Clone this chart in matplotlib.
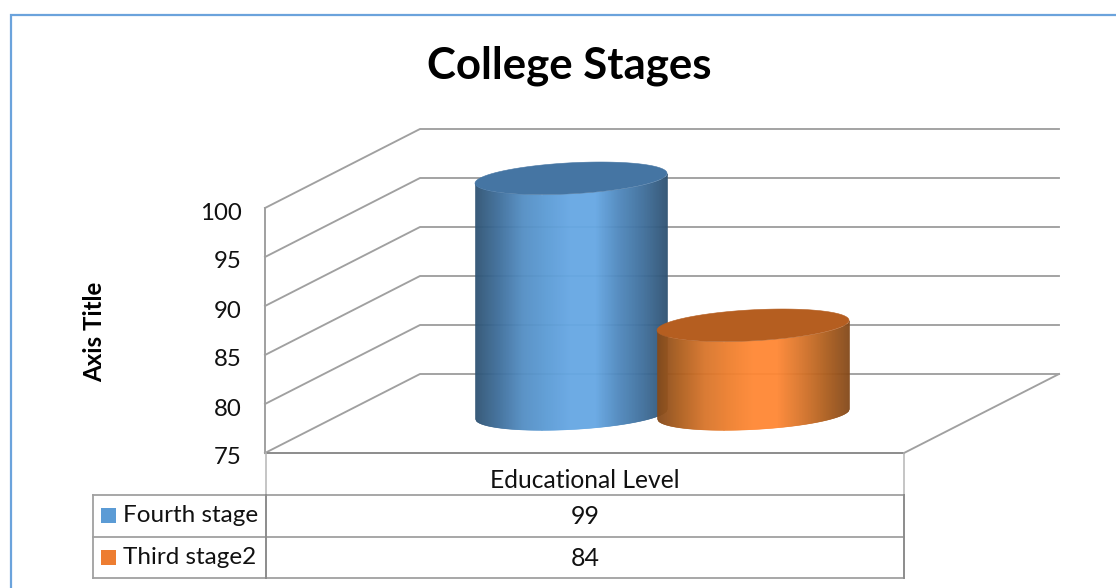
import numpy as np
import matplotlib
matplotlib.use('Agg')
import matplotlib.pyplot as plt
from matplotlib.colors import LinearSegmentedColormap
from matplotlib.patches import Rectangle
from matplotlib.transforms import ScaledTranslation

plt.rcParams['font.family'] = ['Lato', 'DejaVu Sans']

title = 'College Stages'
y_title = 'Axis Title'
category = 'Educational Level'
series_names = ['Fourth stage', 'Third stage2']
series_values = [99, 84]
y_ticks = [75, 80, 85, 90, 95, 100]

key_colors = ['#5b9bd5', '#ed7d31']
top_colors = ['#4575a3', '#b55e20']
side_colors = [
    ['#2f5373', '#3f6f9c', '#548fc4', '#5c9cd6', '#66a8e4', '#66a8e4', '#4f88bd', '#3f6f9c', '#2f5373'],
    ['#854a1a', '#b0601f', '#d9752b', '#ee802f', '#ff8835', '#ff8835', '#d9752b', '#b0601f', '#854a1a'],
]
grid_color = '#a0a0a0'
table_color = '#a0a0a0'

W, H = 1116, 588
fig = plt.figure(figsize=(W / 100, H / 100), dpi=100)

# front plane of the 3d box, 265..904 px wide and 453..208 px high
ax = fig.add_axes([265 / W, (H - 453) / H, 639 / W, 245 / H])
ax.set_xlim(0, 1)
ax.set_ylim(75, 100)
px_x = 1 / 639
px_y = 25 / 245
depth_x = 155 * px_x
depth_y = 79 * px_y


def project(x, depth, value):
    return x + depth * depth_x, value + depth * depth_y


# walls
for v in y_ticks:
    x0, y0 = project(0, 0, v)
    x1, y1 = project(0, 1, v)
    x2, y2 = project(1, 1, v)
    ax.plot([x0, x1, x2], [y0, y1, y2], color=grid_color, lw=1.35, clip_on=False, zorder=1)
x0, y0 = project(1, 0, 75)
x1, y1 = project(1, 1, 75)
ax.plot([x0, x1], [y0, y1], color=grid_color, lw=1.35, clip_on=False, zorder=1)
ax.plot([0, 1], [75, 75], color='#8c8c8c', lw=1.4, clip_on=False, zorder=1)
ax.plot([0, 0], [75, 100], color=grid_color, lw=1.4, clip_on=False, zorder=1)

# cylinders
centers = [0.3576, 0.6424]
half_w = 96 * px_x
half_h = 15.5 * px_y
tilt = 5 * px_y
t = np.linspace(0, 2 * np.pi, 241)
for i, val in enumerate(series_values):
    cx, base = project(centers[i], 0.5, 75)
    top = base + val - 75
    cmap = LinearSegmentedColormap.from_list('side', side_colors[i])
    xs = np.linspace(-1, 1, 193)
    for j in range(len(xs) - 1):
        for_x = np.array([xs[j], xs[j + 1]])
        s = np.sqrt(np.clip(1 - for_x ** 2, 0, 1))
        low = base + tilt * for_x - half_h * s
        high = top + tilt * for_x - half_h * s
        ax.fill_between(cx + half_w * for_x, low, high, color=cmap((j + 0.5) / 192),
                        lw=0.4, clip_on=False, zorder=3 + i)
    ax.fill(cx + half_w * np.cos(t), top + tilt * np.cos(t) + half_h * np.sin(t),
            color=top_colors[i], lw=0.4, clip_on=False, zorder=3 + i)

ax.set_xticks([])
ax.set_yticks(y_ticks)
ax.tick_params(axis='y', length=0, pad=17, labelsize=17.3, labelcolor='#111111')
ax.patch.set_alpha(0)
for s in ax.spines.values():
    s.set_visible(False)
shift = ScaledTranslation(0, -3 / 72 * 72 / 100, fig.dpi_scale_trans)
for lab in ax.get_yticklabels():
    lab.set_transform(lab.get_transform() + shift)

# overlay in pixel units for frame, titles and data table
ov = fig.add_axes([0, 0, 1, 1], zorder=5)
ov.set_xlim(0, W)
ov.set_ylim(H, 0)
ov.axis('off')

ov.plot([10.5, 10.5, W], [H, 14.5, 14.5], color='#6ba3dc', lw=1.6, solid_joinstyle='miter')

ov.text(569.5, 66, title, ha='center', va='center', fontsize=31.5, fontweight='bold', color='black')
ov.text(95, 332, y_title, ha='center', va='center', rotation=90, fontsize=17.4, fontweight='bold', color='black')

rows = [495, 537, 578]
left, split, right = 92.5, 266, 904
ov.plot([split, split], [453, rows[0]], color='#b5b5b5', lw=1.1)
ov.plot([right, right], [453, rows[0]], color='#b5b5b5', lw=1.1)
ov.plot([left, right], [rows[0], rows[0]], color=table_color, lw=1.3)
ov.plot([left, right], [rows[1], rows[1]], color=table_color, lw=1.3)
ov.plot([left, right], [rows[2], rows[2]], color=table_color, lw=1.3)
ov.plot([left, left], [rows[0], rows[2]], color=table_color, lw=1.3)
ov.plot([split, split], [rows[0], rows[2]], color='#8c8c8c', lw=1.4)
ov.plot([right, right], [rows[0], rows[2]], color='#8c8c8c', lw=1.4)

ov.text((split + right) / 2, 481, category, ha='center', va='center', fontsize=17.7, color='#111111')
for i, (name, val) in enumerate(zip(series_names, series_values)):
    yc = (rows[i] + rows[i + 1]) / 2
    ov.add_patch(Rectangle((101, yc - 8), 15, 15, color=key_colors[i], lw=0))
    ov.text(123, yc - 0.5, name, ha='left', va='center', fontsize=17.5, color='#111111')
    ov.text((split + right) / 2, yc + 0.5, str(val), ha='center', va='center', fontsize=18, color='#111111')

fig.savefig('out.png', dpi=100)
